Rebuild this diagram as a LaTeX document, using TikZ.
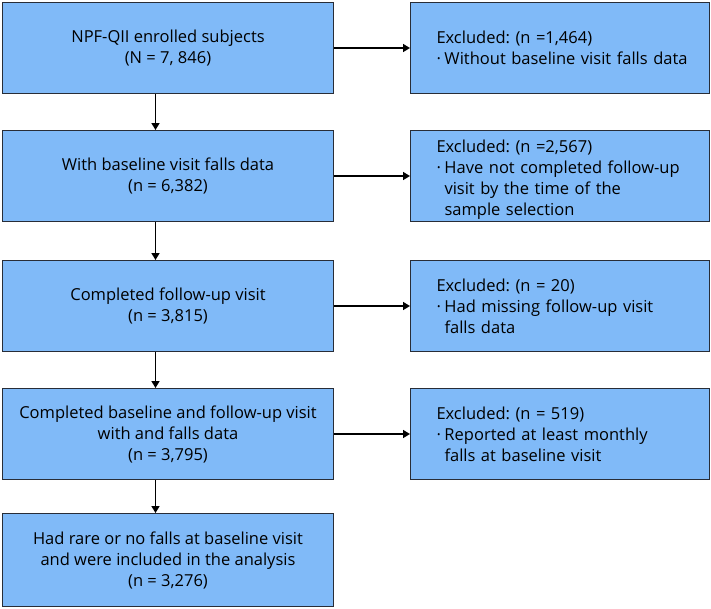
\documentclass[tikz,border=0pt]{standalone}
\usepackage{fontspec}
\setmainfont{Open Sans}
\usetikzlibrary{arrows.meta}
\definecolor{boxblue}{RGB}{128,186,248}
\definecolor{boxline}{RGB}{40,45,55}
\newcommand{\bul}{\makebox[8pt][l]{·}}
\newcommand{\ind}{\hspace*{8pt}}
\hbadness=10000 \hfuzz=200pt
\tikzset{
  lbox/.style={draw=boxline, line width=1pt, fill=boxblue, minimum width=331pt, minimum height=91pt,
    anchor=north west, align=center, font=\fontsize{16.5}{21}\selectfont, inner sep=0pt},
  rbox/.style={draw=boxline, line width=1pt, fill=boxblue, minimum width=299pt, minimum height=91pt,
    anchor=north west, align=left, text width=247pt, font=\fontsize{16.5}{21}\selectfont, inner xsep=26pt, inner ysep=0pt},
  arr/.style={line width=1.6pt, -{Triangle[length=7pt,width=8pt]}}
}
\begin{document}
\frenchspacing
\begin{tikzpicture}[x=1pt,y=-1pt]
\useasboundingbox (0,0) rectangle (711,608);
\node[lbox] (a1) at (2,2) {NPF-QII enrolled subjects\\(N = 7, 846)};
\node[lbox] (a2) at (2,130) {With baseline visit falls data\\(n = 6,382)};
\node[lbox] (a3) at (2,260) {Completed follow-up visit\\(n = 3,815)};
\node[lbox] (a4) at (2,388) {Completed baseline and follow-up visit\\with and falls data\\(n = 3,795)};
\node[lbox, minimum height=93pt] (a5) at (2,513) {Had rare or no falls at baseline visit\\and were included in the analysis\\(n = 3,276)};
\node[rbox] (b1) at (410,2) {\frenchspacing Excluded: (n =1,464)\\\mbox{\bul Without baseline visit falls data}};
\node[rbox] (b2) at (410,130) {\frenchspacing\rule{0pt}{20pt}Excluded: (n =2,567)\\\mbox{\bul Have not completed follow-up}\\\ind visit by the time of the\\\ind sample selection};
\node[rbox] (b3) at (410,260) {\frenchspacing Excluded: (n = 20)\\\mbox{\bul Had missing follow-up visit}\\\ind falls data};
\node[rbox] (b4) at (410,388) {\frenchspacing Excluded: (n = 519)\\\mbox{\bul Reported at least monthly}\\\ind falls at baseline visit};
\foreach \i/\j in {1/2,2/3,3/4,4/5} {
  \draw[arr] ([xshift=-12.5pt]a\i.south) -- ([xshift=-12.5pt]a\j.north);
}
\foreach \i in {1,2,3,4} {
  \draw[arr] (a\i.east) -- (b\i.west);
}
\end{tikzpicture}
\end{document}
